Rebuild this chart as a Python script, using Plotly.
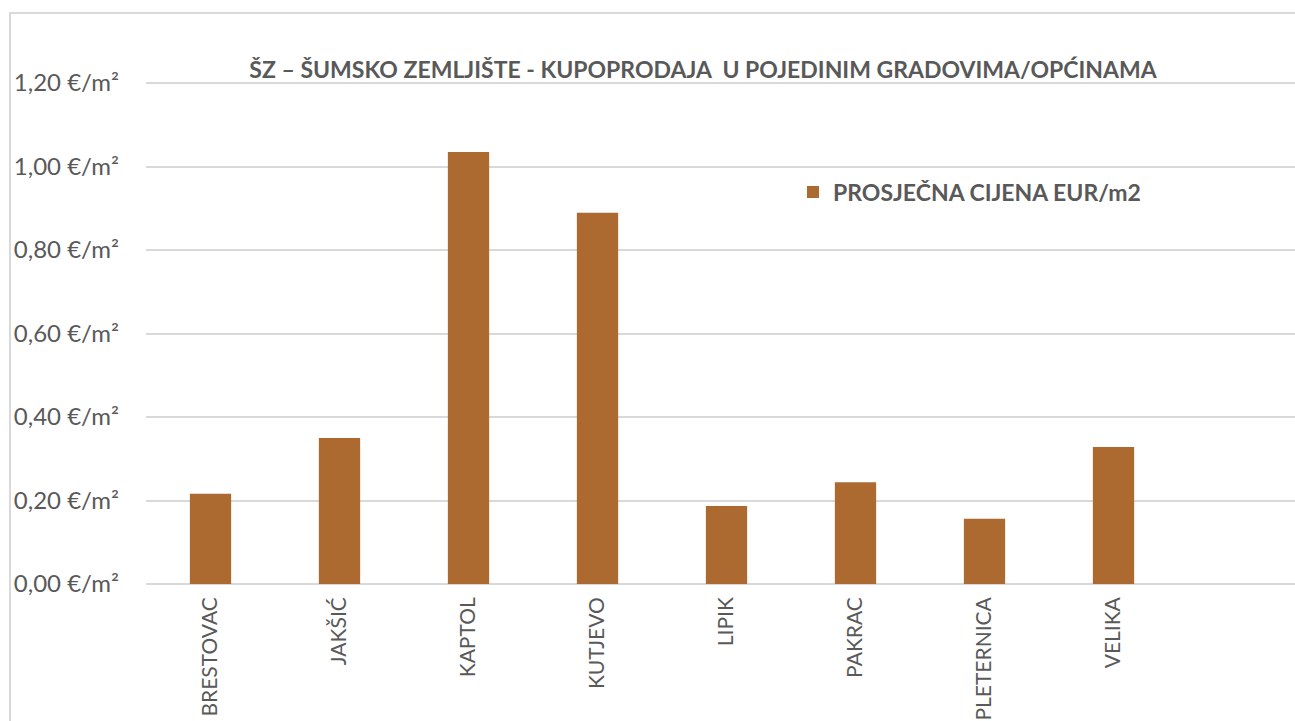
import plotly.graph_objects as go

categories = ["BRESTOVAC", "JAKŠIĆ", "KAPTOL", "KUTJEVO", "LIPIK", "PAKRAC", "PLETERNICA", "VELIKA"]
prices = [0.216, 0.350, 1.035, 0.889, 0.187, 0.244, 0.156, 0.328]
series_name = "PROSJEČNA CIJENA EUR/m2"
title_text = "ŠZ – ŠUMSKO ZEMLJIŠTE - KUPOPRODAJA  U POJEDINIM GRADOVIMA/OPĆINAMA"
y_tick_values = [0.0, 0.2, 0.4, 0.6, 0.8, 1.0, 1.2]
y_tick_labels = ["0,00 €/m²", "0,20 €/m²", "0,40 €/m²", "0,60 €/m²", "0,80 €/m²", "1,00 €/m²", "1,20 €/m²"]

FONT = "Lato"
GRAY = "#595959"
GRID = "#D9D9D9"
BAR = "#AC6A30"

W, H = 1295, 721
L = 146
TOP_GRID_Y = 83
BOTTOM_Y = 584
T = TOP_GRID_Y - 2
B = H - BOTTOM_Y
PW, PH = W - L, H - T - B
Y_MAX = 1.2 * PH / (BOTTOM_Y - TOP_GRID_Y)

fig = go.Figure()
fig.add_trace(go.Bar(
    x=categories, y=prices, name="<b>" + series_name + "</b>",
    marker=dict(color=BAR, line=dict(width=0)),
    width=0.32, showlegend=True,
))

fig.update_layout(
    width=W, height=H,
    margin=dict(l=L, r=0, t=T, b=B, pad=0, autoexpand=False),
    paper_bgcolor="white", plot_bgcolor="white",
    font=dict(family=FONT, color=GRAY),
    title=dict(text="<b>" + title_text + "</b>", x=703 / W, xanchor="center",
               y=1 - 70 / H, yanchor="middle", xref="container", yref="container",
               font=dict(size=23, color=GRAY, family=FONT)),
    legend=dict(x=(793 - L) / PW, y=(BOTTOM_Y - 192) / PH, xref="paper", yref="paper",
                xanchor="left", yanchor="middle", bgcolor="rgba(0,0,0,0)",
                font=dict(size=23, color=GRAY, family=FONT),
                itemwidth=30),
    xaxis=dict(type="category", categoryorder="array", categoryarray=categories,
               range=[-0.5, -0.5 + PW / 129.0],
               showgrid=False, zeroline=False, showline=False,
               tickangle=-90, ticks="", ticklen=0, automargin=False,
               ticklabelstandoff=8,
               tickfont=dict(size=21, color=GRAY, family=FONT)),
    yaxis=dict(range=[0, Y_MAX], tickvals=y_tick_values, ticktext=y_tick_labels,
               showgrid=True, gridcolor=GRID, gridwidth=1.5,
               zeroline=True, zerolinecolor=GRID, zerolinewidth=1.5,
               showline=False, ticks="", ticklabelstandoff=26, automargin=False,
               tickfont=dict(size=24, color=GRAY, family=FONT)),
)

# outer chart border (partially cropped in the reference)
fig.add_shape(type="rect", xref="paper", yref="paper",
              x0=(10 - L) / PW, x1=1.05,
              y0=-0.5, y1=(BOTTOM_Y - 13) / PH,
              line=dict(color=GRID, width=2), fillcolor="rgba(0,0,0,0)", layer="below")

fig.write_html("out.html",
               config={"displayModeBar": False},
               post_script="document.body.style.margin='0';document.body.style.overflow='hidden';")
